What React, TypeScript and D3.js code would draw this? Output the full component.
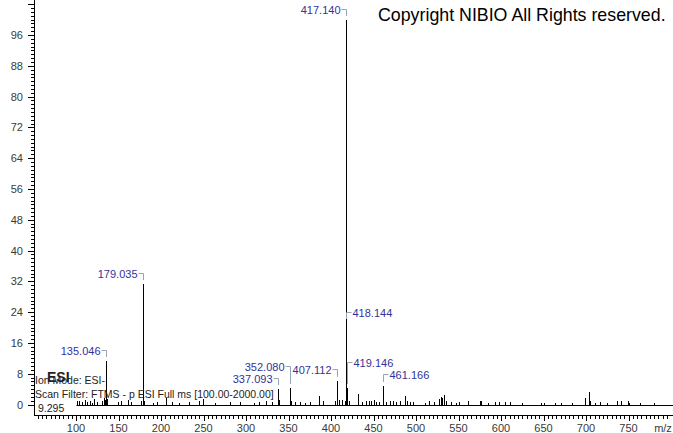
import React from "react";
import * as d3 from "d3";

// ---------- data ----------
const labeledMz = [135.046, 179.035, 337.093, 352.08, 407.112, 417.14, 418.144, 419.146, 461.166];
const labeledIntensity = [11.2, 31.3, 4.0, 4.2, 6.0, 100, 21.1, 4.4, 4.9];
const labelText = ["135.046", "179.035", "337.093", "352.080", "407.112", "417.140", "418.144", "419.146", "461.166"];
const labelLevel = [14.2, 34.2, 7.0, 10.1, 9.1, 102.7, 24.1, 11.1, 7.8];
const labelSide = ["left", "left", "left", "left", "left", "left", "right", "right", "right"];

const minorMz = [
  101, 103, 107, 111, 113, 117, 119, 121, 125, 131, 133, 134, 136, 137, 149, 153, 161, 165, 177, 180,
  191, 195, 206, 213, 221, 233, 245, 249, 263, 281, 293, 309, 315, 323, 331, 339, 353, 358, 363, 369,
  375, 386, 391, 405, 409, 413, 416, 421, 432, 437, 441, 445, 447, 451, 453, 457, 465, 469, 473, 477,
  481, 487, 489, 493, 497, 511, 515, 521, 527, 529, 531, 533, 535, 541, 547, 551, 561, 575, 577, 585,
  593, 598, 605, 611, 625, 647, 651, 663, 671, 683, 699, 703, 705, 711, 717, 725, 737, 741, 749, 751,
  763, 780,
];
const minorIntensity = [
  1.0, 0.8, 0.6, 1.2, 0.7, 0.9, 0.5, 1.3, 0.6, 0.8, 1.8, 1.2, 1.5, 0.8, 0.6, 1.0, 1.2, 0.7, 0.8, 1.0,
  0.5, 0.7, 1.8, 0.6, 0.5, 0.7, 0.8, 1.4, 0.5, 0.6, 0.7, 0.5, 0.7, 0.8, 0.6, 1.2, 0.9, 0.6, 0.7, 0.5,
  0.6, 2.1, 0.9, 1.0, 1.2, 1.1, 1.0, 0.8, 2.8, 0.7, 0.9, 0.8, 1.0, 1.1, 0.7, 0.6, 0.6, 1.0, 0.8, 0.7,
  0.9, 2.3, 1.0, 0.6, 0.7, 0.5, 1.0, 0.6, 1.5, 2.0, 1.6, 2.4, 1.0, 0.7, 0.5, 0.6, 1.0, 1.0, 0.8, 0.5,
  0.6, 0.7, 0.6, 0.6, 0.5, 0.5, 0.4, 0.4, 0.5, 0.4, 1.8, 3.2, 1.0, 0.5, 0.6, 0.5, 1.0, 0.8, 0.9, 0.5,
  0.4, 0.4,
];

const xDomain = [50, 800];
const yDomain = [0, 105];
const xMajorTicks = [100, 150, 200, 250, 300, 350, 400, 450, 500, 550, 600, 650, 700, 750];
const yMajorTicks = [0, 8, 16, 24, 32, 40, 48, 56, 64, 72, 80, 88, 96];
const scanRange = [100, 800];

const infoLines = ["Ion Mode: ESI-", "Scan Filter: FTMS - p ESI Full ms [100.00-2000.00]", "9.295"];

// ---------- layout ----------
const W = 673;
const H = 433;
const FONT = "'Liberation Sans', Arial, sans-serif";
const axisY = 415;

export default function App() {
  const x = d3.scaleLinear().domain(xDomain).range([33.5, 671]);
  const y = d3.scaleLinear().domain(yDomain).range([404.5, 0.4]);
  const px = (v: number) => Math.round(x(v)) + 0.5;
  const py = (v: number) => Math.round(y(v));

  const xMinor = d3.range(55, 800, 5);
  const yMinor = d3.range(0, 105, 1);

  const labelColor = "#32329c";
  const bracketColor = "#9aa3b5";

  return (
    <svg
      width={W}
      height={H}
      style={{ position: "fixed", left: 0, top: 0, background: "#fff" }}
      fontFamily={FONT}
    >
      <rect width={W} height={H} fill="#fff" />
      {/* y axis */}
      <line x1={34.5} x2={34.5} y1={py(yDomain[1])} y2={axisY + 0.5} stroke="#000" />
      {yMinor.map((t) => {
        const major = t % 8 === 0;
        return (
          <line key={"ym" + t} x1={34} x2={major ? 28 : 31} y1={py(t) + 0.5} y2={py(t) + 0.5} stroke="#000" />
        );
      })}
      {yMajorTicks.map((t) => (
        <text key={"yl" + t} x={23} y={py(t) + 4} textAnchor="end" fontSize={11} fill="#3a3a3a">
          {t}
        </text>
      ))}
      {/* x axis */}
      <line x1={34} x2={W} y1={axisY + 0.5} y2={axisY + 0.5} stroke="#000" />
      {xMinor.map((t) => {
        const major = t % 50 === 0;
        return (
          <line key={"xm" + t} x1={px(t)} x2={px(t)} y1={axisY} y2={axisY + (major ? 6 : 4)} stroke="#000" />
        );
      })}
      {xMajorTicks.map((t) => (
        <text key={"xl" + t} x={x(t)} y={432} textAnchor="middle" fontSize={11} fill="#3a3a3a">
          {t}
        </text>
      ))}
      <text x={663} y={432} textAnchor="middle" fontSize={11} fill="#3a3a3a">
        m/z
      </text>

      {/* spectrum baseline */}
      <line x1={px(scanRange[0])} x2={W} y1={py(0) + 0.5} y2={py(0) + 0.5} stroke="#000" />

      {/* minor peaks */}
      {minorMz.map((m, i) => (
        <line key={"mp" + i} x1={px(m)} x2={px(m)} y1={py(0) + 1} y2={py(minorIntensity[i])} stroke="#000" />
      ))}
      {/* labelled peaks */}
      {labeledMz.map((m, i) => (
        <line key={"lp" + i} x1={px(m)} x2={px(m)} y1={py(0) + 1} y2={py(labeledIntensity[i])} stroke="#000" />
      ))}

      {/* labels */}
      {labeledMz.map((m, i) => {
        const xx = px(m);
        const ly = py(labelLevel[i]) + 0.5;
        const bottom = py(labeledIntensity[i]) - 4;
        const left = labelSide[i] === "left";
        const hx = left ? xx - 5 : xx + 5;
        return (
          <g key={"lb" + i}>
            <polyline
              points={`${hx},${ly} ${xx},${ly} ${xx},${bottom}`}
              fill="none"
              stroke={bracketColor}
            />
            <text
              x={left ? hx - 1 : hx + 1}
              y={ly + 4}
              textAnchor={left ? "end" : "start"}
              fontSize={11}
              fill={labelColor}
            >
              {labelText[i]}
            </text>
          </g>
        );
      })}

      {/* info overlay */}
      <text x={47} y={382} fontSize={14} fontWeight="bold" fill="#222">
        ESI
      </text>
      {infoLines.map((s, i) => (
        <text key={"inf" + i} x={i === 2 ? 38 : 35} y={384 + i * 14} fontSize={10.5} fill="#222">
          {s}
        </text>
      ))}

      {/* copyright */}
      <text x={378} y={21} fontSize={17.8} fill="#000">
        Copyright NIBIO All Rights reserved.
      </text>
    </svg>
  );
}
